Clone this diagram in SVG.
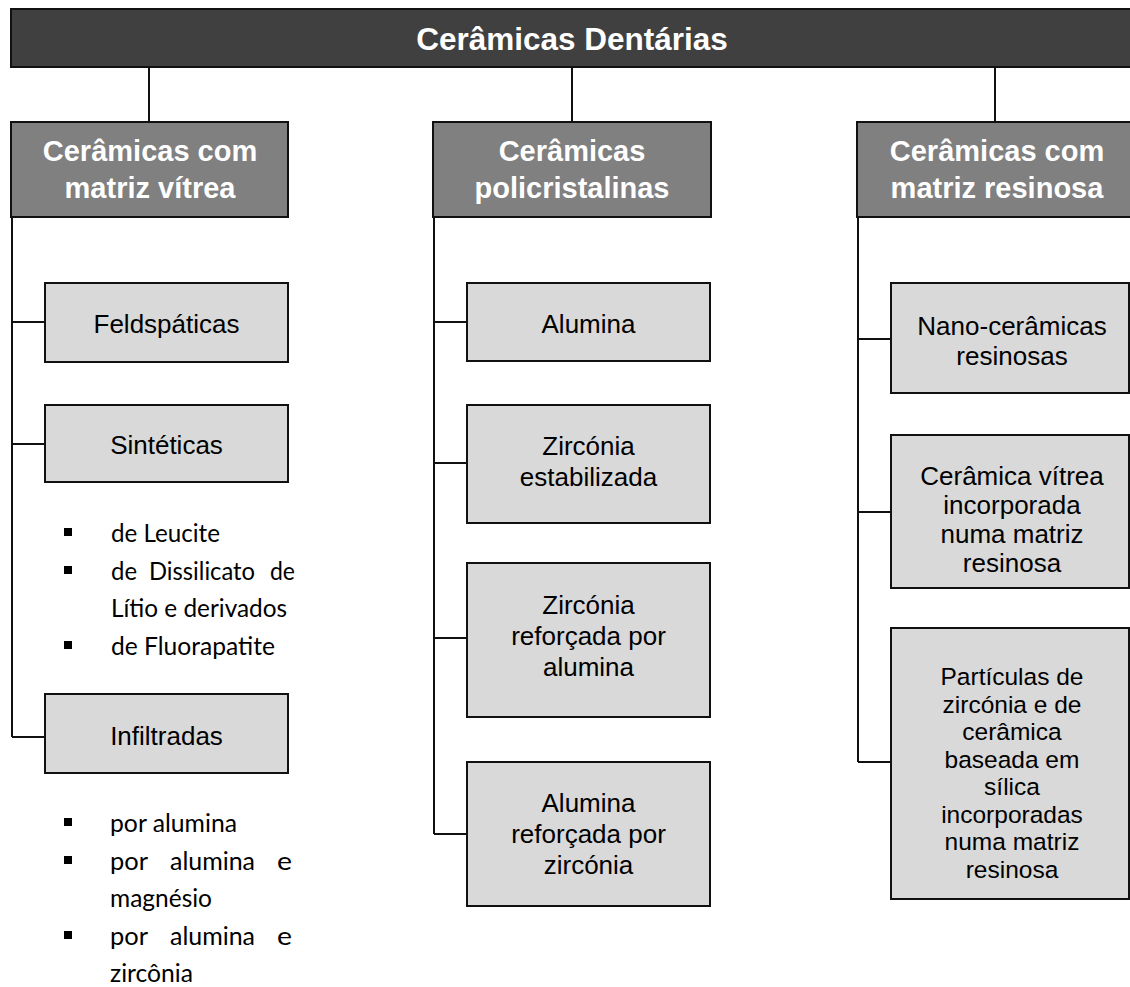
<svg xmlns="http://www.w3.org/2000/svg" width="1130" height="987" viewBox="0 0 1130 987">
<style>
.bar{fill:#404040;stroke:#111;stroke-width:2}
.hdr{fill:#808080;stroke:#111;stroke-width:2}
.box{fill:#d9d9d9;stroke:#111;stroke-width:2}
.conn{stroke:#111;stroke-width:2;fill:none}
.tt{font-family:"Liberation Sans",Arial,sans-serif;font-weight:bold;font-size:31.5px;fill:#fff;text-anchor:middle}
.th{font-family:"Liberation Sans",Arial,sans-serif;font-weight:bold;font-size:29px;fill:#fff;text-anchor:middle}
.tb{font-family:"Liberation Sans",Arial,sans-serif;font-size:26px;fill:#000;text-anchor:middle}
.ts{font-family:"Liberation Sans",Arial,sans-serif;font-size:24.5px;fill:#000;text-anchor:middle}
.tl{font-family:Lato,"Open Sans",sans-serif;font-size:25px;fill:#000}
.bul{fill:#000}
</style>
<rect width="1130" height="987" fill="#fff"/>
<g id="connectors">
<path class="conn" d="M149,67V122M572,67V122M995,67V122"/>
<path class="conn" d="M12,217V737M12,322H45M12,444H45M12,737H45"/>
<path class="conn" d="M434,217V834M434,322H467M434,463H467M434,638H467M434,834H467"/>
<path class="conn" d="M858,217V762M858,339H891M858,512H891M858,762H891"/>
</g>
<g id="title">
<rect class="bar" x="11" y="9" width="1130" height="58"/>
<text class="tt" x="572" y="50">Cerâmicas Dentárias</text>
</g>
<g id="hdr-vitrea">
<rect class="hdr" x="11" y="122" width="277" height="95"/>
<text class="th" x="150" y="161">Cerâmicas com</text>
<text class="th" x="150" y="198">matriz vítrea</text>
</g>
<g id="hdr-poli">
<rect class="hdr" x="433" y="122" width="278" height="95"/>
<text class="th" x="572" y="161">Cerâmicas</text>
<text class="th" x="572" y="198">policristalinas</text>
</g>
<g id="hdr-resinosa">
<rect class="hdr" x="857" y="122" width="285" height="95"/>
<text class="th" x="997" y="161">Cerâmicas com</text>
<text class="th" x="997" y="198">matriz resinosa</text>
</g>
<g id="feldspaticas">
<rect class="box" x="45" y="283" width="243" height="79"/>
<text class="tb" x="166.5" y="333">Feldspáticas</text>
</g>
<g id="sinteticas">
<rect class="box" x="45" y="405" width="243" height="77"/>
<text class="tb" x="166.5" y="454">Sintéticas</text>
</g>
<g id="sinteticas-list">
<rect class="bul" x="64" y="528" width="8" height="8"/>
<text class="tl" x="111" y="542" textLength="109" lengthAdjust="spacingAndGlyphs">de Leucite</text>
<rect class="bul" x="64" y="566" width="8" height="8"/>
<text class="tl" x="111" y="580" textLength="26" lengthAdjust="spacingAndGlyphs">de</text>
<text class="tl" x="149" y="580" textLength="106" lengthAdjust="spacingAndGlyphs">Dissilicato</text>
<text class="tl" x="270" y="580" textLength="25" lengthAdjust="spacingAndGlyphs">de</text>
<text class="tl" x="111" y="617" textLength="176" lengthAdjust="spacingAndGlyphs">Lítio e derivados</text>
<rect class="bul" x="64" y="641" width="8" height="8"/>
<text class="tl" x="111" y="655" textLength="164" lengthAdjust="spacingAndGlyphs">de Fluorapatite</text>
</g>
<g id="infiltradas">
<rect class="box" x="45" y="694" width="243" height="79"/>
<text class="tb" x="166.5" y="745">Infiltradas</text>
</g>
<g id="infiltradas-list">
<rect class="bul" x="64" y="818" width="8" height="8"/>
<text class="tl" x="110" y="832" textLength="127" lengthAdjust="spacingAndGlyphs">por alumina</text>
<rect class="bul" x="64" y="856" width="8" height="8"/>
<text class="tl" x="110" y="870" textLength="38" lengthAdjust="spacingAndGlyphs">por</text>
<text class="tl" x="170" y="870" textLength="85" lengthAdjust="spacingAndGlyphs">alumina</text>
<text class="tl" x="277" y="870" textLength="15" lengthAdjust="spacingAndGlyphs">e</text>
<text class="tl" x="110" y="907" textLength="102" lengthAdjust="spacingAndGlyphs">magnésio</text>
<rect class="bul" x="64" y="931" width="8" height="8"/>
<text class="tl" x="110" y="945" textLength="38" lengthAdjust="spacingAndGlyphs">por</text>
<text class="tl" x="170" y="945" textLength="85" lengthAdjust="spacingAndGlyphs">alumina</text>
<text class="tl" x="277" y="945" textLength="15" lengthAdjust="spacingAndGlyphs">e</text>
<text class="tl" x="110" y="982" textLength="83" lengthAdjust="spacingAndGlyphs">zircônia</text>
</g>
<g id="alumina">
<rect class="box" x="467" y="283" width="243" height="78"/>
<text class="tb" x="588.5" y="333">Alumina</text>
</g>
<g id="zirconia-estab">
<rect class="box" x="467" y="405" width="243" height="118"/>
<text class="tb" x="588.5" y="455">Zircónia</text>
<text class="tb" x="588.5" y="486">estabilizada</text>
</g>
<g id="zirconia-ref">
<rect class="box" x="467" y="563" width="243" height="154"/>
<text class="tb" x="588.5" y="614">Zircónia</text>
<text class="tb" x="588.5" y="645">reforçada por</text>
<text class="tb" x="588.5" y="676">alumina</text>
</g>
<g id="alumina-ref">
<rect class="box" x="467" y="762" width="243" height="144"/>
<text class="tb" x="588.5" y="812">Alumina</text>
<text class="tb" x="588.5" y="843">reforçada por</text>
<text class="tb" x="588.5" y="874">zircónia</text>
</g>
<g id="nano">
<rect class="box" x="891" y="283" width="238" height="110"/>
<text class="tb" x="1012" y="335">Nano-cerâmicas</text>
<text class="tb" x="1012" y="365">resinosas</text>
</g>
<g id="ceramica-vitrea">
<rect class="box" x="891" y="435" width="238" height="153"/>
<text class="tb" x="1012" y="485">Cerâmica vítrea</text>
<text class="tb" x="1012" y="514">incorporada</text>
<text class="tb" x="1012" y="543">numa matriz</text>
<text class="tb" x="1012" y="572">resinosa</text>
</g>
<g id="particulas">
<rect class="box" x="891" y="628" width="238" height="271"/>
<text class="ts" x="1012" y="685">Partículas de</text>
<text class="ts" x="1012" y="712.5">zircónia e de</text>
<text class="ts" x="1012" y="740">cerâmica</text>
<text class="ts" x="1012" y="767.5">baseada em</text>
<text class="ts" x="1012" y="795">sílica</text>
<text class="ts" x="1012" y="822.5">incorporadas</text>
<text class="ts" x="1012" y="850">numa matriz</text>
<text class="ts" x="1012" y="877.5">resinosa</text>
</g>
</svg>
